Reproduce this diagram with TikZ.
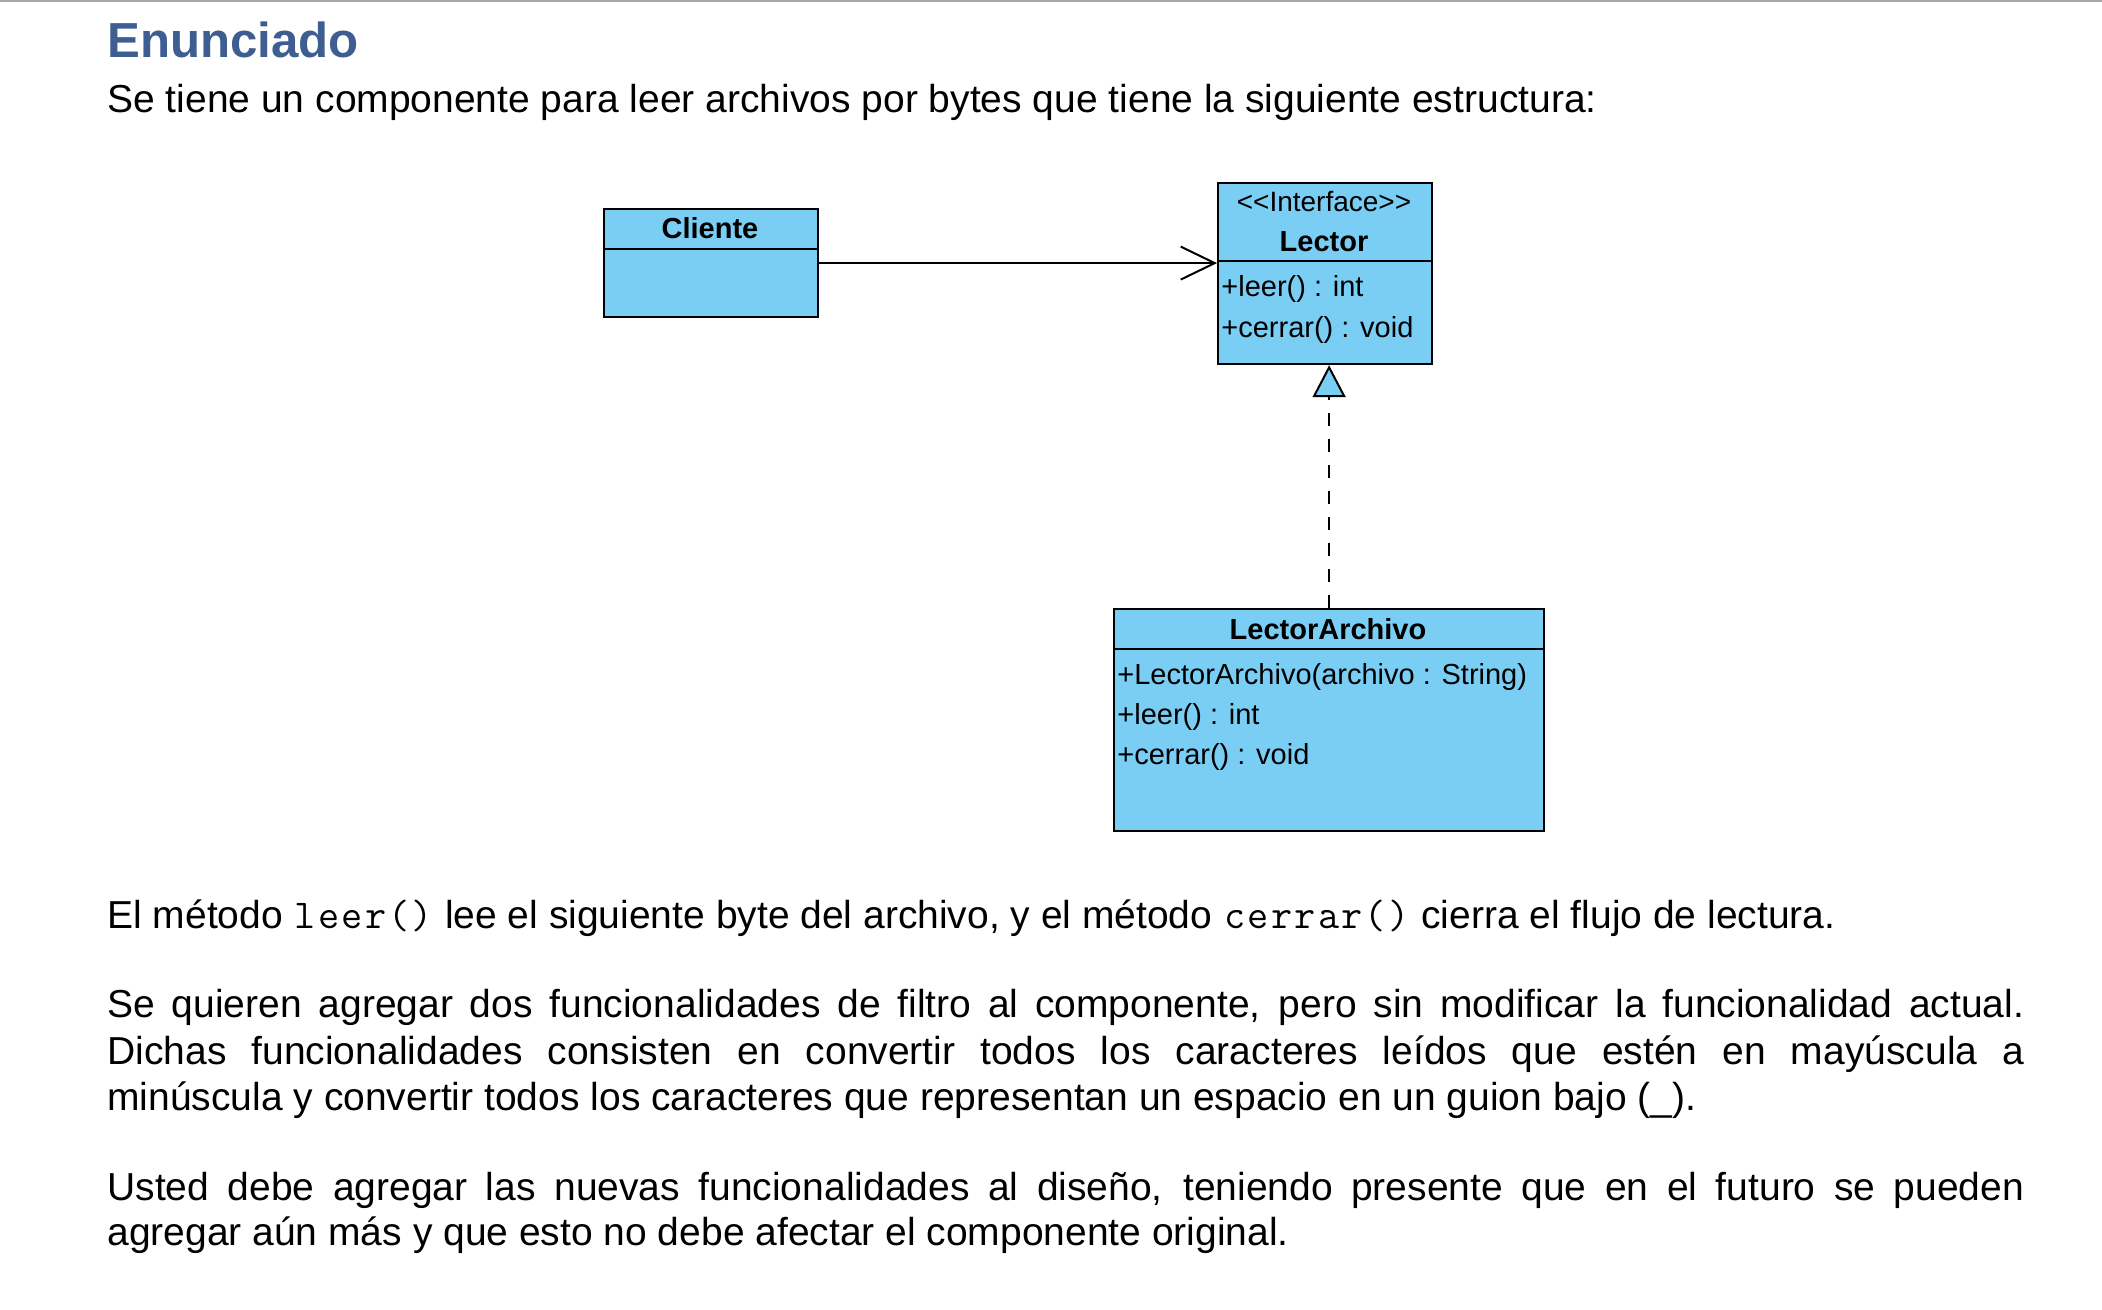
\documentclass[tikz,border=0pt]{standalone}
\usepackage{fontspec}
\setmainfont{Liberation Sans}
\usetikzlibrary{arrows.meta}
\definecolor{umlblue}{HTML}{7ACEF4}
\definecolor{headblue}{HTML}{3E5E91}
\definecolor{rulegray}{HTML}{A8A8A8}
\newcommand{\bodyfont}{\fontsize{19.5pt}{23pt}\selectfont}
\newcommand{\codefont}{\fontsize{20.5pt}{23pt}\selectfont\ttfamily}
\newcommand{\cw}[1]{\makebox[11.7pt]{#1}}
\newcommand{\jline}[1]{\makebox[958.5pt][s]{#1}}
\begin{document}
\begin{tikzpicture}[x=0.5pt,y=-0.5pt,
  umlbox/.style={draw=black, fill=umlblue, line width=1.1pt, inner sep=0pt, anchor=north west},
  divider/.style={draw=black, line width=1.1pt},
  umltxt/.style={inner sep=0pt, anchor=base west, font=\fontsize{14.5pt}{17pt}\selectfont},
  umltitle/.style={inner sep=0pt, anchor=base, font=\fontsize{14.5pt}{17pt}\selectfont\bfseries},
  umlstereo/.style={inner sep=0pt, anchor=base, font=\fontsize{14pt}{17pt}\selectfont},
  bodytxt/.style={inner sep=0pt, anchor=base west, font=\bodyfont},
  assoc/.style={draw=black, line width=1pt, -{Straight Barb[length=17pt,width=16.5pt,line width=1pt]}},
  realize/.style={draw=black, line width=1pt, dash pattern=on 6.5pt off 6.5pt,
     -{Triangle[length=16pt,width=16.5pt,fill=umlblue,line width=1pt]}},
  toprule/.style={draw=rulegray, line width=1.2pt}
]
\useasboundingbox (0,0) rectangle (2102,1310);
\fill[white] (0,0) rectangle (2102,1310);
\coordinate (rl) at (0,1);
\coordinate (rr) at (2102,1);
\draw[toprule] (rl) -- (rr);

% heading and intro
\node[inner sep=0pt, anchor=base west, text=headblue, font=\fontsize{24.6pt}{29pt}\selectfont\bfseries] (head) at (107,58) {Enunciado};
\node[bodytxt] (intro) at (107,113) {Se tiene un componente para leer archivos por bytes que tiene la siguiente estructura:};

% Cliente
\node[umlbox, minimum width=107pt, minimum height=54pt] (cli) at (603,208) {};
\draw[divider] (cli.west |- 0,249) -- (cli.east |- 0,249);
\node[umltitle] (clit) at (710,239) {Cliente};

% Lector interface
\node[umlbox, minimum width=107pt, minimum height=90.5pt] (lec) at (1217,182) {};
\draw[divider] (lec.west |- 0,261) -- (lec.east |- 0,261);
\node[umlstereo] (lecs) at (1324,212) {<\kern0pt<Interface>\kern0pt>};
\node[umltitle] (lect) at (1324,252) {Lector};
\node[umltxt] (lec1) at (1221,297) {+leer() : int};
\node[umltxt] (lec2) at (1221,337) {+cerrar() : void};

% LectorArchivo
\node[umlbox, minimum width=215pt, minimum height=111pt] (lar) at (1113,608) {};
\draw[divider] (lar.west |- 0,649) -- (lar.east |- 0,649);
\node[umltitle] (lart) at (1328,639) {LectorArchivo};
\node[umltxt] (lar1) at (1117,684) {+LectorArchivo(archivo : String)};
\node[umltxt] (lar2) at (1117,724) {+leer() : int};
\node[umltxt] (lar3) at (1117,764) {+cerrar() : void};

% connectors
\draw[assoc] (cli.east) -- (cli.east -| lec.west);
\draw[realize] (lar.north) -- (lar.north |- lec.south);

% body text
\node[bodytxt] (p1) at (107,928) {El método {\codefont\cw{l}\cw{e}\cw{e}\cw{r}\cw{(}\cw{)}} lee el siguiente byte del archivo, y el método {\codefont\cw{c}\cw{e}\cw{r}\cw{r}\cw{a}\cw{r}\cw{(}\cw{)}} cierra el flujo de lectura.};
\node[bodytxt] (p2a) at (107,1017) {\jline{Se quieren agregar dos funcionalidades de filtro al componente, pero sin modificar la funcionalidad actual.}};
\node[bodytxt] (p2b) at (107,1064) {\jline{Dichas funcionalidades consisten en convertir todos los caracteres leídos que estén en mayúscula a}};
\node[bodytxt] (p2c) at (107,1110) {minúscula y convertir todos los caracteres que representan un espacio en un guion bajo (\_).};
\node[bodytxt] (p3a) at (107,1200) {\jline{Usted debe agregar las nuevas funcionalidades al diseño, teniendo presente que en el futuro se pueden}};
\node[bodytxt] (p3b) at (107,1245) {agregar aún más y que esto no debe afectar el componente original.};
\end{tikzpicture}
\end{document}
